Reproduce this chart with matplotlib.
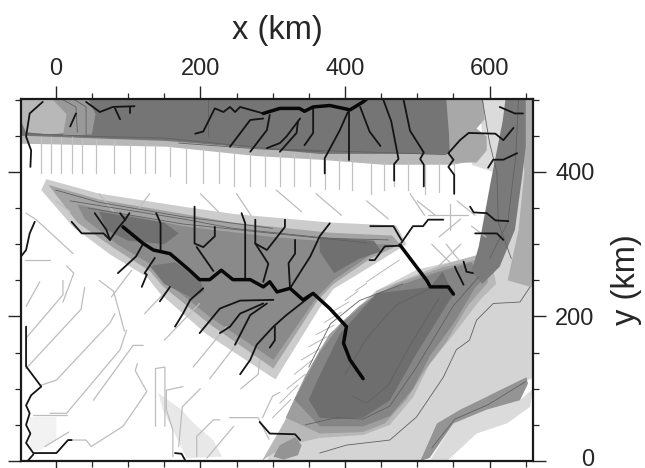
#!/usr/bin/env python3
import matplotlib
matplotlib.use("Agg")
import matplotlib.pyplot as plt
from matplotlib.transforms import ScaledTranslation

plt.rcParams['font.family'] = ['Liberation Sans', 'DejaVu Sans']

# shaded regions, all (x km, y km)
band_fringe = [(-48,470),(543,470),(605,421),(550,410),(453,410),(365,417),(278,422),(153,435),(-41,439),(-48,439)]
band_dark = [(-48,501),(543,501),(545,425),(365,425),(300,431),(153,443),(-41,450),(-48,450)]
corner_light = [(-48,501),(-20,501),(10,501),(30,485),(35,455),(-10,452),(-41,455),(-48,470)]
corner_mid = [(-5,501),(45,501),(55,480),(50,452),(10,450),(15,480)]
ne_pale = [(585,501),(630,501),(622,450),(605,400),(575,410),(590,450)]
ne_mid = [(540,501),(591,501),(593,473),(582,460),(596,449),(596,430),(582,413),(547,413)]
wedge_fringe = [(-13,390),(60,370),(176,352),(245,342),(379,330),(471,326),(485,300),(440,272),(384,238),(365,212),(304,113),(296,118),(208,176),(144,232),(126,255),(75,286),(24,324),(-20,375)]
wedge_mid = [(-10,382),(60,362),(176,342),(245,330),(379,316),(465,312),(476,300),(435,280),(384,245),(362,222),(301,128),(212,190),(148,242),(130,263),(80,295),(30,330)]
wedge_core = [(30,355),(176,325),(300,310),(420,300),(465,300),(435,285),(384,250),(360,225),(301,140),(215,198),(150,250),(135,270),(85,300),(40,335)]
wedge_dark_west = [(60,345),(90,340),(150,330),(170,315),(150,300),(100,305),(70,320)]
wedge_dark_east = [(365,310),(440,305),(450,290),(420,280),(385,260),(365,290)]
wedge_dark_south = [(130,270),(165,275),(200,250),(205,235),(190,225),(150,245)]
se_light = [(292,0),(330,85),(370,150),(444,236),(500,265),(596,287),(605,400),(628,476),(628,501),(660,501),(660,115),(596,89),(559,71),(527,52),(504,0)]
se_lower = [(517,0),(550,52),(596,71),(642,84),(660,100),(656,75),(624,52),(582,38),(541,0)]
se_strip = [(504,0),(527,52),(559,71),(596,89),(651,116),(653,107),(642,84),(596,71),(550,52),(517,4)]
basin_outer = [(285,0),(330,78),(365,154),(393,190),(444,236),(530,270),(600,290),(609,245),(586,222),(550,175),(517,134),(494,88),(462,50),(425,36),(365,32),(335,25),(300,10)]
basin_rim = [(318,60),(345,118),(378,175),(420,215),(470,245),(535,268),(590,280),(598,248),(570,215),(540,165),(510,125),(485,85),(455,52),(425,40),(365,38)]
basin_mid = [(330,85),(365,150),(395,190),(444,232),(530,262),(575,275),(590,250),(580,240),(550,190),(517,145),(494,100),(462,62),(425,48),(365,48)]
basin_core = [(365,60),(388,58),(425,60),(462,84),(499,149),(550,231),(535,262),(518,241),(444,232),(393,176),(362,112),(350,85)]
south_blob = [(301,6),(310,22),(331,33),(340,22),(335,8),(315,2)]
sw_pale = [(142,94),(174,71),(191,52),(218,29),(230,6),(181,4),(162,43),(148,71)]
west_pale = [(-36,61),(1,61),(1,30),(-20,15),(-36,15)]
ne_strip_side = [(640,501),(660,501),(660,240),(625,250),(640,320),(648,400)]
ne_strip = [(622,501),(650,501),(650,435),(645,394),(635,320),(614,269),(590,245),(575,262),(585,297),(602,389),(618,470)]

# thin contours
contours = [
    [(365,11),(402,22),(462,29),(499,61),(536,116),(554,154),(572,167),(582,195),(605,218),(642,220),(656,241)],
    [(345,50),(388,60),(425,58),(462,76),(499,130),(550,215),(585,255)],
    [(410,90),(430,80),(460,105),(490,160),(530,225)],
    [(400,120),(430,170),(470,215),(520,240)],
    [(350,130),(380,190),(420,222),(480,245)],
    [(520,18),(552,58),(598,78),(650,110)],
    [(20,360),(176,335),(245,322),(379,308),(460,306)],
    [(45,350),(176,328),(300,315),(430,302)],
    [(0,375),(60,358),(176,338),(300,322)],
    [(-41,453),(60,449),(150,447),(300,432),(540,424)],
    [(10,500),(28,490),(30,455)],
    [(24,501),(42,490),(42,452)],
    [(210,500),(210,450)],
    [(170,440),(280,432),(370,428)],
    [(590,500),(600,440),(610,400),(612,330),(630,280)],
    [(640,500),(636,420),(625,330),(600,280)],
]

# faint drainage lines over the pale ground
band_x = [-20,-6,8,22,36,56,81,103,123,137,158,180,204,226,246,268,289,310,330,352,372,392,410,436,454,468,487,510,530,551]
band_tops = [449,449,449,449,445,445,443,440,440,438,437,434,432,430,428,428,426,426,426,426,419,419,417,414,414,412,412,412,412,412]
band_bottoms = [398,398,398,398,398,398,398,398,398,398,395,385,385,385,380,380,380,380,380,380,376,376,375,370,375,380,375,370,372,370]
faint_lines = [
    [(-41,214),(-22,248)],
    [(-41,170),(10,230),(10,250)],
    [(-41,128),(35,210),(40,240)],
    [(-20,105),(1,112),(75,191),(82,204)],
    [(-8,66),(15,66),(89,154),(98,181)],
    [(19,29),(42,29),(49,20),(93,48),(126,96),(110,125),(113,135)],
    [(-31,64),(15,64)],
    [(52,84),(107,160),(121,160)],
    [(138,48),(138,128),(151,130),(151,48)],
    [(162,6),(162,43),(153,71),(153,98),(176,103)],
    [(195,6),(195,34),(218,57),(227,57)],
    [(209,4),(246,48)],
    [(190,130),(236,186)],
    [(213,114),(254,167)],
    [(150,167),(199,218)],
    [(123,204),(158,241)],
    [(77,227),(105,264)],
    [(-43,278),(-8,278)],
    [(-41,343),(-27,334),(24,287)],
    [(-15,20),(18,40)],
    [(170,20),(175,75),(200,100)],
    [(240,60),(280,60),(295,30)],
    [(256,100),(280,120),(282,140)],
    [(286,60),(300,90),(310,95)],
    [(60,250),(80,235),(95,180)],
    [(10,220),(25,260),(15,270)],
    [(545,355),(545,320)],
    [(530,310),(560,335)],
    [(515,340),(570,340)],
    [(560,300),(530,270)],
    [(575,325),(595,310)],
    [(0,360),(20,345)],
    [(60,370),(80,345)],
    [(130,370),(115,350)],
    [(200,370),(225,345)],
    [(250,370),(270,340)],
    [(305,375),(340,345)],
    [(360,370),(395,340)],
    [(430,360),(460,335)],
    [(490,370),(510,340)],
    [(500,360),(525,340)],
    [(555,360),(580,340)],
    [(520,300),(545,275)],
    [(560,275),(540,300)],
]

# short hatches on the west side of the basin
hatch_x0 = [300,310,320,330,340,350,360,372,385,400,415,430,445,460]
hatch_y0 = [60,80,100,120,140,158,175,192,208,222,236,248,258,268]
hatch_x1 = [325,335,345,355,365,375,385,395,405,418,430,445,460,475]
hatch_y1 = [85,105,120,140,155,172,188,206,220,235,246,258,268,278]

# rivers
trunk_west = [(93,324),(121,301),(135,292),(158,287),(185,264),(199,251),(213,251),(229,264),(245,251),(269,251),(287,241),(296,248),(306,234),(324,239),(342,223),(356,232),(379,211),(402,186),(398,163),(407,140),(425,114)]
trunk_east = [(476,299),(513,250),(518,241),(543,241),(550,231)]
trunk_north = [(287,481),(310,488),(337,488),(344,484),(356,490),(379,492),(407,486),(425,497),(430,501)]
rivers = [
    [(-18,497),(-36,481),(-41,449),(-34,430),(-35,407)],
    [(42,497),(61,483),(79,490),(109,491)],
    [(82,488),(89,473)],
    [(103,490),(103,481)],
    [(28,481),(20,463)],
    [(287,481),(255,490),(248,483),(241,490),(232,483),(220,488),(204,456),(193,453)],
    [(287,474),(269,472),(241,435)],
    [(296,479),(292,458),(269,428)],
    [(338,474),(319,449),(310,440),(292,433)],
    [(335,470),(333,454),(310,428)],
    [(356,488),(356,454),(344,437)],
    [(404,483),(393,458),(372,419),(372,398)],
    [(405,483),(405,417)],
    [(421,490),(434,456),(449,436)],
    [(453,500),(464,470),(474,418),(468,411),(468,388)],
    [(481,500),(490,457),(509,427),(504,418),(509,410),(509,380)],
    [(614,490),(635,481),(646,481)],
    [(633,461),(619,444),(608,453),(571,454),(559,444),(543,426),(550,417),(543,407),(551,396),(551,370)],
    [(638,426),(619,417),(605,417),(598,406)],
    [(573,352),(578,344),(596,343),(608,333),(626,332)],
    [(580,315),(610,315),(619,306)],
    [(536,334),(515,334),(508,325),(494,325),(478,302)],
    [(435,325),(467,325),(478,306)],
    [(476,298),(455,297),(441,278),(434,278)],
    [(564,276),(568,262),(577,260)],
    [(552,269),(554,264),(564,244)],
    [(-29,331),(-36,315),(-41,292),(-48,283)],
    [(22,331),(36,315),(66,315),(75,306)],
    [(54,343),(70,320),(75,306),(86,322),(96,334),(89,343)],
    [(96,334),(102,343)],
    [(139,343),(145,329),(145,292)],
    [(192,352),(192,301),(204,296),(220,311),(220,324)],
    [(195,296),(218,263)],
    [(257,343),(262,329),(262,251)],
    [(276,334),(276,301),(294,273),(287,248)],
    [(317,334),(317,324),(292,292),(276,301)],
    [(331,306),(331,287),(322,274),(324,239)],
    [(379,329),(365,311),(352,283),(324,239)],
    [(121,301),(111,283),(86,260)],
    [(137,281),(123,260),(126,258),(119,241)],
    [(158,241),(144,221)],
    [(204,239),(186,223),(176,204),(165,186)],
    [(301,223),(255,222),(227,211),(199,177)],
    [(287,218),(255,204),(241,186),(227,177)],
    [(292,218),(269,202),(248,161)],
    [(351,227),(319,202),(301,186),(278,161),(269,140),(255,120)],
    [(303,186),(303,167),(296,157)],
    [(-41,186),(-41,131),(-20,103),(-34,91),(-41,77),(-36,66),(-41,50),(-35,38),(-41,25),(-31,11),(1,11),(17,29),(22,29)],
    [(-38,1),(-31,9)],
    [(165,11),(174,10),(179,1)],
    [(282,54),(296,38),(331,37),(338,29)],
]

x_major = [0, 200, 400, 600]
x_minor = [50,100,150,250,300,350,450,500,550,650]
y_major = [0, 200, 400]
y_minor = [50,100,150,250,300,350,450,500]

fig = plt.figure(figsize=(6.45, 4.68), dpi=100)
ax = fig.add_axes([21/645, 1 - 461/468, 512/645, 362/468])


def shade(pts, g, z=1):
    ax.fill([p[0] for p in pts], [p[1] for p in pts], color=str(g), lw=0, zorder=z)


def trace(pts, color, lw, z):
    ax.plot([p[0] for p in pts], [p[1] for p in pts], color=color, lw=lw, zorder=z,
            solid_joinstyle='round', solid_capstyle='round')


shade(west_pale, 0.95)
shade(sw_pale, 0.91)
shade(band_fringe, 0.72)
shade(band_dark, 0.46)
shade(corner_light, 0.72)
shade(corner_mid, 0.6)
shade(ne_pale, 0.86)
shade(ne_mid, 0.66)
shade(se_light, 0.83)
shade(se_lower, 0.86)
shade(se_strip, 0.58)
shade(basin_outer, 0.72)
shade(south_blob, 0.58)
shade(basin_rim, 0.62)
shade(basin_mid, 0.52)
shade(basin_core, 0.43)
shade(ne_strip_side, 0.68)
shade(ne_strip, 0.48)
shade(wedge_fringe, 0.8)
shade(wedge_mid, 0.64)
shade(wedge_core, 0.54)
shade(wedge_dark_west, 0.44)
shade(wedge_dark_east, 0.44)
shade(wedge_dark_south, 0.46)

for x, t, b in zip(band_x, band_tops, band_bottoms):
    ax.plot([x, x], [b, t], color='0.76', lw=0.9, zorder=2)
for line in faint_lines:
    trace(line, '0.74', 0.9, 2)
for x0, y0, x1, y1 in zip(hatch_x0, hatch_y0, hatch_x1, hatch_y1):
    ax.plot([x0, x1], [y0, y1], color='0.72', lw=0.7, zorder=2)
for line in contours:
    trace(line, '0.38', 0.6, 3)
for line in rivers:
    trace(line, '0.08', 1.3, 4)
trace(trunk_west, '0.03', 2.5, 5)
trace(trunk_east, '0.03', 2.5, 5)
trace(trunk_north, '0.03', 2.5, 5)

ax.set_xlim(-48, 660)
ax.set_ylim(0, 501)
for s in ax.spines.values():
    s.set_linewidth(1.6)
    s.set_color('0.1')
    s.set_zorder(6)

ax.set_xticks(x_major)
ax.set_xticks(x_minor, minor=True)
ax.set_yticks(y_major)
ax.set_yticks(y_minor, minor=True)
ax.tick_params(which='major', direction='out', length=9.4, width=1.0, color='0.15',
               top=True, bottom=True, left=True, right=True,
               labeltop=True, labelbottom=False, labelleft=False, labelright=True,
               labelsize=17, labelcolor='0.15')
ax.tick_params(which='minor', direction='out', length=4.3, width=0.9, color='0.15',
               top=True, bottom=True, left=True, right=True)
ax.tick_params(axis='x', which='major', pad=4)
ax.tick_params(axis='y', which='major', pad=35)
for tick in ax.yaxis.get_major_ticks():
    tick.label2.set_ha('right')
zero = ax.yaxis.get_major_ticks()[0].label2
zero.set_transform(zero.get_transform() + ScaledTranslation(0, 2.5/72, fig.dpi_scale_trans))

fig.text(277/645, 1 - 30/468, 'x (km)', fontsize=23.5, ha='center', va='center', color='0.15')
fig.text(627/645, 1 - 280/468, 'y (km)', fontsize=23.5, rotation=90, ha='center', va='center', color='0.15')

plt.savefig('out.png', dpi=100)
